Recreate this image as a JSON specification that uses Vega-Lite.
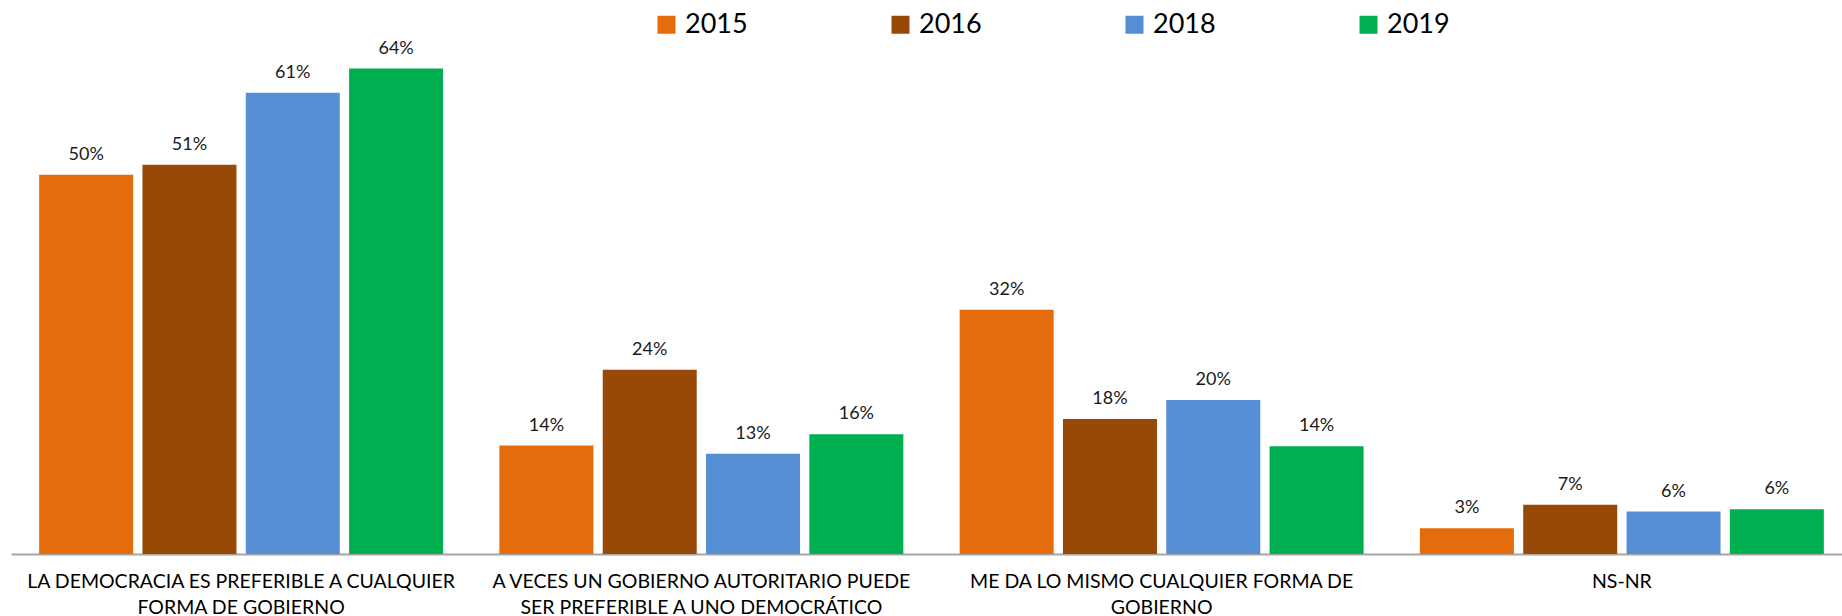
{
  "$schema": "https://vega.github.io/schema/vega-lite/v6.json",
  "width": 1831,
  "height": 531,
  "autosize": {"type": "none"},
  "padding": {"left": 11, "top": 23, "right": 0, "bottom": 62},
  "config": {"view": {"stroke": null}, "font": "Lato"},
  "data": {
    "values": [
      {"categoria": "LA DEMOCRACIA ES PREFERIBLE A CUALQUIER\nFORMA DE GOBIERNO", "year": "2015", "valor": 50.0, "label": "50%"},
      {"categoria": "LA DEMOCRACIA ES PREFERIBLE A CUALQUIER\nFORMA DE GOBIERNO", "year": "2016", "valor": 51.3, "label": "51%"},
      {"categoria": "LA DEMOCRACIA ES PREFERIBLE A CUALQUIER\nFORMA DE GOBIERNO", "year": "2018", "valor": 60.8, "label": "61%"},
      {"categoria": "LA DEMOCRACIA ES PREFERIBLE A CUALQUIER\nFORMA DE GOBIERNO", "year": "2019", "valor": 64.0, "label": "64%"},
      {"categoria": "A VECES UN GOBIERNO AUTORITARIO PUEDE\nSER PREFERIBLE A UNO DEMOCRÁTICO", "year": "2015", "valor": 14.3, "label": "14%"},
      {"categoria": "A VECES UN GOBIERNO AUTORITARIO PUEDE\nSER PREFERIBLE A UNO DEMOCRÁTICO", "year": "2016", "valor": 24.3, "label": "24%"},
      {"categoria": "A VECES UN GOBIERNO AUTORITARIO PUEDE\nSER PREFERIBLE A UNO DEMOCRÁTICO", "year": "2018", "valor": 13.2, "label": "13%"},
      {"categoria": "A VECES UN GOBIERNO AUTORITARIO PUEDE\nSER PREFERIBLE A UNO DEMOCRÁTICO", "year": "2019", "valor": 15.8, "label": "16%"},
      {"categoria": "ME DA LO MISMO CUALQUIER FORMA DE\nGOBIERNO", "year": "2015", "valor": 32.2, "label": "32%"},
      {"categoria": "ME DA LO MISMO CUALQUIER FORMA DE\nGOBIERNO", "year": "2016", "valor": 17.8, "label": "18%"},
      {"categoria": "ME DA LO MISMO CUALQUIER FORMA DE\nGOBIERNO", "year": "2018", "valor": 20.3, "label": "20%"},
      {"categoria": "ME DA LO MISMO CUALQUIER FORMA DE\nGOBIERNO", "year": "2019", "valor": 14.2, "label": "14%"},
      {"categoria": "NS-NR", "year": "2015", "valor": 3.4, "label": "3%"},
      {"categoria": "NS-NR", "year": "2016", "valor": 6.5, "label": "7%"},
      {"categoria": "NS-NR", "year": "2018", "valor": 5.6, "label": "6%"},
      {"categoria": "NS-NR", "year": "2019", "valor": 5.9, "label": "6%"}
    ]
  },
  "encoding": {
    "x": {
      "field": "categoria",
      "type": "nominal",
      "sort": null,
      "scale": {"range": [0, 1841], "paddingInner": 0, "paddingOuter": 0},
      "axis": {
        "title": null,
        "ticks": false,
        "labelAngle": 0,
        "labelFontSize": 19.5,
        "labelColor": "#000000",
        "labelPadding": 18,
        "labelLineHeight": 26,
        "labelLimit": 0,
        "labelExpr": "split(datum.value, '\\n')",
        "domainColor": "#a6a6a6",
        "domainWidth": 2,
        "grid": false
      }
    },
    "xOffset": {
      "field": "year",
      "type": "nominal",
      "scale": {"paddingInner": 0.09, "paddingOuter": 0.2725}
    },
    "y": {
      "field": "valor",
      "type": "quantitative",
      "scale": {"domain": [0, 70], "nice": false},
      "axis": null
    }
  },
  "layer": [
    {
      "mark": {"type": "bar"},
      "encoding": {
        "color": {
          "field": "year",
          "type": "nominal",
          "scale": {
            "domain": ["2015", "2016", "2018", "2019"],
            "range": ["#E46C0A", "#984807", "#558ED5", "#00B050"]
          },
          "legend": {
            "orient": "none",
            "legendX": 642,
            "legendY": -12,
            "direction": "horizontal",
            "title": null,
            "padding": 0,
            "symbolType": "square",
            "symbolSize": 324,
            "symbolStrokeWidth": 0,
            "labelFontSize": 27,
            "labelColor": "#000000",
            "labelOffset": 5,
            "columnPadding": 139
          }
        }
      }
    },
    {
      "mark": {"type": "text", "dy": -15, "baseline": "alphabetic", "fontSize": 18, "color": "#1a1a1a"},
      "encoding": {"text": {"field": "label"}}
    }
  ]
}
